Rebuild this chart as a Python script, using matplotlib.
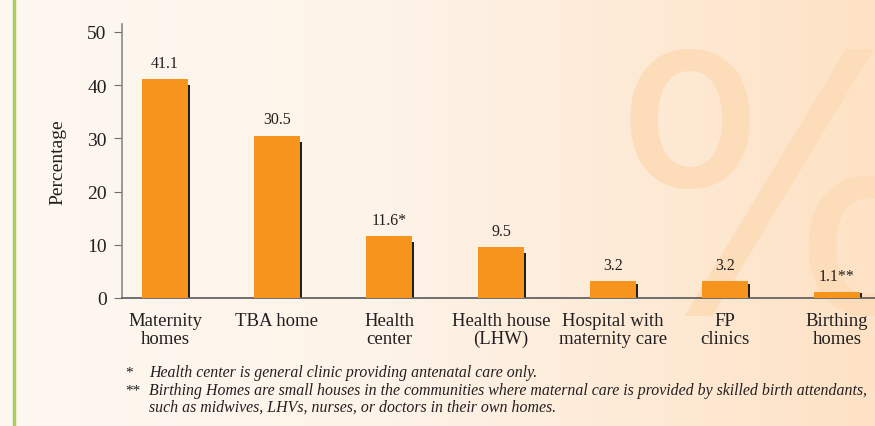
import numpy as np
import matplotlib
matplotlib.use('Agg')
import matplotlib.pyplot as plt
from matplotlib.colors import LinearSegmentedColormap

# data
categories = ['Maternity\nhomes', 'TBA home', 'Health\ncenter', 'Health house\n(LHW)',
              'Hospital with\nmaternity care', 'FP\nclinics', 'Birthing\nhomes']
values = [41.1, 30.5, 11.6, 9.5, 3.2, 3.2, 1.1]
value_labels = ['41.1', '30.5', '11.6*', '9.5', '3.2', '3.2', '1.1**']
yticks = [0, 10, 20, 30, 40, 50]

footnotes = [
    ('*', 'Health center is general clinic providing antenatal care only.'),
    ('**', 'Birthing Homes are small houses in the communities where maternal care is provided by skilled birth attendants,'),
    ('', 'such as midwives, LHVs, nurses, or doctors in their own homes.'),
]

plt.rcParams['font.family'] = ['Liberation Serif', 'DejaVu Serif']

BAR_COLOR = '#f7941d'
SHADOW_COLOR = '#231f20'
TEXT_COLOR = '#231f20'

fig = plt.figure(figsize=(8.75, 4.27), dpi=100)

# background gradient (cream on the left, peach on the right)
bg = fig.add_axes([0, 0, 1, 1], zorder=-10)
cmap = LinearSegmentedColormap.from_list('bg', [(0, '#fdf8f1'), (0.45, '#fdf3e8'), (1, '#fde2c5')])
grad = np.linspace(0, 1, 256).reshape(1, -1)
bg.imshow(grad, aspect='auto', cmap=cmap, extent=[0, 1, 0, 1])
bg.set_xlim(0, 1)
bg.set_ylim(0, 1)
bg.axis('off')

# green rule on the left edge
bg.axvline(14 / 875, color='#a8d15c', lw=2.5)

# big percent watermark (clipped at the figure edge)
bg.text(611 / 875, 1 - 311 / 427, '%', fontsize=255, color='#fcdcb9',
        family='DejaVu Sans', ha='left', va='baseline', clip_on=True)

ax = fig.add_axes([122 / 875, 128 / 427, 753 / 875, 274 / 427])
ax.patch.set_alpha(0)

x = np.arange(len(values))
w = 0.41
# drop shadow on the right of each bar, starting a little below the top
ax.bar(x + 0.022, [v - min(1.1, 0.2 * v) for v in values], width=w, color=SHADOW_COLOR, zorder=2)
ax.bar(x, values, width=w, color=BAR_COLOR, zorder=3)

for xi, v, lab in zip(x, values, value_labels):
    ax.annotate(lab, (xi, v), xytext=(0, 6), textcoords='offset points',
                ha='center', va='bottom', fontsize=11.5, color=TEXT_COLOR)

ax.set_xlim(-0.384, 6.34)
ax.set_ylim(0, 51.5)
ax.set_yticks(yticks)
ax.set_yticklabels([str(t) for t in yticks], fontsize=14, color=TEXT_COLOR)
ax.set_xticks(x)
ax.set_xticklabels(categories, fontsize=13.5, color=TEXT_COLOR, linespacing=1.05)
ax.tick_params(axis='x', length=0, pad=10)
ax.tick_params(axis='y', direction='out', length=6, color='#6d6e71', pad=5)

for s in ['top', 'right']:
    ax.spines[s].set_visible(False)
ax.spines['left'].set_color('#8a8a8a')
ax.spines['bottom'].set_color('#58595b')
ax.spines['left'].set_linewidth(1.2)
ax.spines['bottom'].set_linewidth(1.2)

ax.set_ylabel('Percentage', fontsize=14, color=TEXT_COLOR, labelpad=15)

# footnotes
ys = [373, 391, 408]
for (mark, txt), yp in zip(footnotes, ys):
    fig.text(125 / 875, 1 - yp / 427, mark, fontsize=11, color=TEXT_COLOR, va='center', ha='left')
    fig.text(149 / 875, 1 - yp / 427, txt, fontsize=11.4, style='italic', color=TEXT_COLOR,
             va='center', ha='left')

fig.savefig('out.png', dpi=100)
